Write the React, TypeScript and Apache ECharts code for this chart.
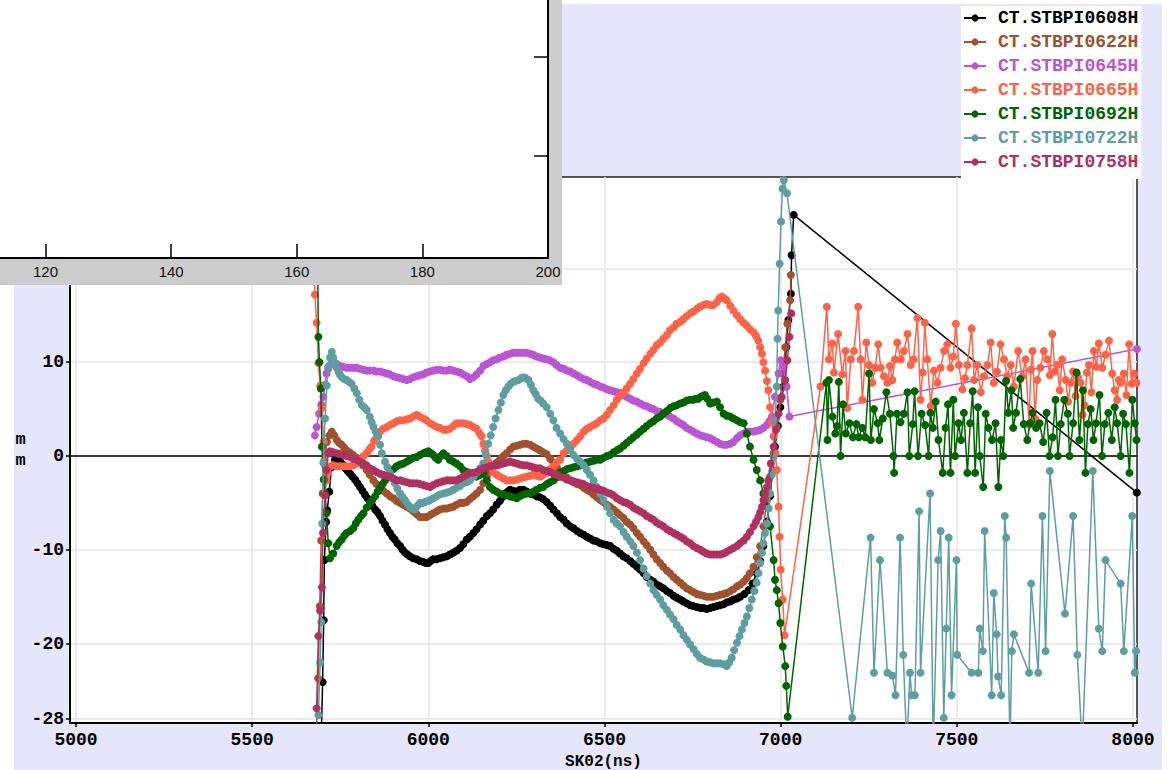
import React, { useEffect, useRef } from "react";
import * as echarts from "echarts";

const seriesNames = [
  "CT.STBPI0608H",
  "CT.STBPI0622H",
  "CT.STBPI0645H",
  "CT.STBPI0665H",
  "CT.STBPI0692H",
  "CT.STBPI0722H",
  "CT.STBPI0758H",
];
const seriesColors = ["#000000", "#A0522D", "#BA55D3", "#FF6347", "#006400", "#5F9EA0", "#B03060"];

const xTicks = [5000, 5500, 6000, 6500, 7000, 7500, 8000];
const yTicks = [-28, -20, -10, 0, 10, 20];
const yLabels = [-28, -20, -10, 0, 10];
const insetXTicks = [120, 140, 160, 180, 200];
const insetYTicks = [102, 201];

const s0608: number[][] = [
  [5696,-30],[5700,-24.1],[5703,-17.5],[5705,-11.1],[5710,-7.0],[5713,-5.8],[5719,-3.8],[5725,-1.2],[5735,-0.4],[5743,-0.3],
  [5750,-0.6],[5757,-0.9],[5764,-1.3],[5771,-1.6],[5778,-1.9],[5785,-2.2],[5792,-2.5],[5799,-2.9],[5806,-3.3],[5813,-3.7],
  [5820,-4.1],[5827,-4.5],[5834,-4.8],[5841,-5.3],[5849,-5.7],[5856,-6.0],[5863,-6.4],[5870,-6.9],[5877,-7.3],[5884,-7.8],
  [5891,-8.2],[5898,-8.6],[5905,-8.9],[5912,-9.3],[5920,-9.6],[5927,-10.0],[5934,-10.3],[5941,-10.5],[5948,-10.7],[5957,-10.9],
  [5967,-11.0],[5976,-11.2],[5986,-11.3],[5993,-11.4],[6000,-11.4],[6007,-11.2],[6014,-11.0],[6023,-11.0],[6033,-10.9],[6042,-10.8],
  [6052,-10.7],[6061,-10.5],[6071,-10.3],[6080,-10.1],[6090,-9.8],[6099,-9.4],[6109,-8.9],[6118,-8.6],[6128,-8.2],[6137,-7.8],
  [6147,-7.3],[6156,-6.9],[6166,-6.4],[6175,-6.1],[6184,-5.7],[6194,-5.2],[6203,-4.8],[6210,-4.4],[6218,-4.0],[6225,-3.8],
  [6232,-3.6],[6241,-3.7],[6251,-3.8],[6260,-3.6],[6270,-3.6],[6280,-3.8],[6289,-4.0],[6298,-4.1],[6308,-4.3],[6317,-4.4],
  [6326,-4.6],[6336,-4.9],[6346,-5.3],[6355,-5.7],[6365,-6.1],[6374,-6.5],[6384,-6.8],[6393,-7.2],[6403,-7.5],[6412,-7.7],
  [6422,-8.0],[6431,-8.2],[6441,-8.4],[6450,-8.6],[6459,-8.8],[6469,-9.0],[6478,-9.1],[6488,-9.3],[6497,-9.4],[6507,-9.5],
  [6516,-9.6],[6526,-9.9],[6535,-10.1],[6544,-10.4],[6554,-10.7],[6563,-10.9],[6573,-11.2],[6582,-11.5],[6592,-11.8],[6601,-12.1],
  [6611,-12.5],[6620,-12.9],[6630,-13.2],[6639,-13.4],[6648,-13.7],[6658,-13.9],[6667,-14.1],[6677,-14.4],[6686,-14.6],[6696,-14.9],
  [6705,-15.1],[6715,-15.3],[6724,-15.5],[6733,-15.7],[6743,-15.9],[6752,-16.0],[6762,-16.1],[6772,-16.2],[6781,-16.2],[6790,-16.3],
  [6800,-16.2],[6809,-16.1],[6819,-16.0],[6828,-15.9],[6838,-15.8],[6847,-15.6],[6857,-15.5],[6866,-15.3],[6876,-15.2],[6885,-15.0],
  [6897,-14.7],[6909,-14.3],[6920,-13.6],[6932,-12.5],[6942,-11.2],[6951,-9.6],[6961,-7.0],[6970,-4.3],[6977,-1.6],[6984,1.0],
  [6992,3.2],[6999,5.2],[7008,7.4],[7016,11.6],[7022,14.5],[7029,17.3],[7031,21.4],[7037,25.7],[8011,-3.9],
];

const s0622: number[][] = [
  [5683,-29],[5687,-23.7],[5692,-16],[5696,-9],[5700,-4],[5705,-0.5],[5712,1.5],[5719,2.2],[5726,2.6],[5733,2.2],
  [5740,1.7],[5747,1.4],[5754,1.2],[5761,0.9],[5768,0.6],[5777,0.4],[5787,0.1],[5796,-0.2],[5806,-0.6],[5815,-1.0],
  [5825,-1.5],[5834,-2.0],[5844,-2.6],[5853,-3.0],[5863,-3.3],[5872,-3.7],[5882,-4.0],[5891,-4.3],[5901,-4.5],[5910,-4.8],
  [5920,-5.0],[5929,-5.2],[5939,-5.4],[5948,-5.6],[5957,-5.9],[5967,-6.2],[5976,-6.5],[5986,-6.5],[5995,-6.5],[6005,-6.3],
  [6014,-6.1],[6024,-5.9],[6033,-5.7],[6043,-5.6],[6052,-5.6],[6061,-5.5],[6071,-5.4],[6080,-5.2],[6090,-5.0],[6099,-5.0],
  [6109,-4.9],[6118,-4.6],[6128,-4.3],[6137,-4.0],[6147,-3.6],[6156,-2.9],[6166,-2.2],[6175,-1.6],[6184,-1.1],[6194,-0.7],
  [6203,-0.4],[6213,0.0],[6222,0.3],[6232,0.7],[6241,1.0],[6251,1.1],[6260,1.2],[6270,1.3],[6279,1.3],[6289,1.2],
  [6298,1.0],[6308,0.8],[6317,0.6],[6326,0.4],[6336,0.2],[6346,-0.3],[6355,-0.7],[6365,-1.2],[6374,-1.7],[6384,-2.0],
  [6393,-2.3],[6403,-2.6],[6412,-2.8],[6422,-3.0],[6431,-3.1],[6441,-3.4],[6450,-3.6],[6459,-3.8],[6469,-4.1],[6478,-4.4],
  [6488,-4.7],[6497,-4.9],[6507,-5.2],[6516,-5.4],[6526,-5.7],[6535,-6.0],[6544,-6.3],[6554,-6.6],[6563,-7.0],[6573,-7.3],
  [6582,-7.7],[6592,-8.2],[6601,-8.6],[6611,-9.1],[6620,-9.5],[6630,-10.0],[6639,-10.5],[6648,-11.0],[6658,-11.4],[6667,-11.8],
  [6677,-12.2],[6686,-12.5],[6696,-12.9],[6705,-13.2],[6715,-13.5],[6724,-13.8],[6733,-14.1],[6743,-14.3],[6752,-14.5],[6762,-14.7],
  [6772,-14.8],[6781,-14.9],[6790,-15.0],[6800,-15.0],[6809,-15.0],[6819,-14.9],[6828,-14.8],[6838,-14.7],[6847,-14.6],[6857,-14.4],
  [6866,-14.2],[6876,-13.9],[6885,-13.7],[6895,-13.4],[6904,-13.0],[6913,-12.5],[6923,-11.8],[6932,-10.8],[6942,-9.6],[6951,-7.5],
  [6961,-4.7],[6970,-2.2],[6980,0.3],[6989,3.1],[6999,6.0],[7006,8.8],[7013,11.6],[7019,14.1],[7027,16.6],[7029,19.3],
];

const s0645: number[][] = [
  [5678,2.2],[5683,3.1],[5690,4.5],[5696,5.5],[5702,6.3],[5707,7.6],[5711,8.8],[5716,9.3],[5721,9.7],[5730,9.9],
  [5740,9.8],[5749,9.6],[5759,9.5],[5768,9.4],[5778,9.4],[5787,9.4],[5797,9.4],[5806,9.3],[5816,9.2],[5825,9.1],
  [5834,9.1],[5844,9.1],[5853,9.0],[5863,9.0],[5872,8.9],[5882,8.8],[5891,8.7],[5901,8.5],[5910,8.4],[5920,8.3],
  [5929,8.2],[5939,8.1],[5948,8.2],[5957,8.4],[5967,8.5],[5976,8.6],[5986,8.7],[5995,8.9],[6005,9.0],[6014,9.1],
  [6024,9.2],[6033,9.2],[6043,9.1],[6052,9.1],[6061,9.2],[6071,9.1],[6080,9.0],[6090,8.9],[6099,8.7],[6109,8.5],
  [6118,8.2],[6128,8.4],[6137,8.7],[6147,9.1],[6156,9.6],[6166,9.8],[6175,10.0],[6184,10.2],[6194,10.3],[6203,10.5],
  [6213,10.6],[6222,10.8],[6232,10.9],[6241,11.0],[6251,11.0],[6260,11.0],[6270,11.0],[6279,11.0],[6289,10.9],[6298,10.8],
  [6307,10.6],[6317,10.5],[6326,10.4],[6336,10.3],[6345,10.2],[6355,10.0],[6364,9.7],[6374,9.4],[6384,9.3],[6393,9.1],
  [6403,9.0],[6412,8.8],[6422,8.6],[6431,8.4],[6441,8.2],[6450,8.1],[6459,7.9],[6469,7.7],[6478,7.6],[6488,7.4],
  [6497,7.3],[6507,7.1],[6516,7.0],[6526,6.9],[6535,6.8],[6544,6.7],[6554,6.5],[6563,6.3],[6573,6.1],[6582,5.9],
  [6592,5.8],[6601,5.6],[6611,5.4],[6620,5.3],[6630,5.1],[6639,5.0],[6648,4.8],[6658,4.7],[6667,4.5],[6677,4.4],
  [6686,4.2],[6696,4.0],[6705,3.7],[6715,3.5],[6724,3.3],[6733,3.0],[6743,2.8],[6752,2.6],[6762,2.4],[6772,2.2],
  [6781,2.1],[6790,2.0],[6800,1.9],[6809,1.7],[6819,1.5],[6828,1.3],[6838,1.2],[6847,1.2],[6857,1.3],[6866,1.5],
  [6876,1.9],[6885,2.2],[6895,2.4],[6904,2.6],[6913,2.6],[6923,2.6],[6932,2.7],[6942,2.8],[6951,3.0],[6961,3.3],
  [6968,3.7],[6975,4.2],[6984,6.3],[6994,8.8],[7000,10.2],[7008,9.5],[7017,7.4],[7025,4.2],[8011,11.4],
];

const s0665: number[][] = [
  [5672,24],[5678,17.2],[5683,14.2],[5688,9.9],[5693,7.5],[5698,5.1],[5703,1.5],[5707,-1.0],[5711,-2.6],[5716,-1.8],
  [5721,-1.1],[5730,-1.0],[5740,-1.1],[5749,-1.1],[5759,-1.1],[5768,-1.1],[5778,-1.1],[5787,-1.0],[5797,-0.8],[5806,-0.4],
  [5816,0.0],[5825,0.3],[5832,0.7],[5839,1.0],[5846,1.6],[5854,2.1],[5863,2.6],[5872,2.9],[5882,3.1],[5891,3.3],
  [5901,3.5],[5910,3.7],[5920,3.8],[5929,3.8],[5939,3.9],[5948,4.0],[5957,4.2],[5967,4.4],[5976,4.2],[5986,4.0],
  [5995,3.8],[6005,3.5],[6014,3.3],[6024,3.1],[6033,3.0],[6043,2.8],[6052,2.8],[6061,2.9],[6071,3.2],[6080,3.5],
  [6090,3.5],[6099,3.5],[6109,3.4],[6118,3.3],[6128,3.1],[6137,2.9],[6144,2.5],[6151,2.1],[6156,1.3],[6161,0.6],
  [6166,0.0],[6170,-0.6],[6177,-1.2],[6184,-1.7],[6194,-2.0],[6203,-2.2],[6213,-2.4],[6222,-2.6],[6232,-2.6],[6241,-2.6],
  [6251,-2.5],[6260,-2.4],[6270,-2.3],[6279,-2.2],[6289,-2.1],[6298,-2.0],[6308,-2.1],[6317,-2.2],[6326,-2.0],[6336,-1.8],
  [6346,-1.4],[6355,-1.1],[6365,-0.7],[6374,-0.4],[6384,0.3],[6393,0.6],[6403,1.0],[6412,1.3],[6422,1.7],[6431,2.1],
  [6441,2.6],[6450,2.9],[6459,3.1],[6469,3.3],[6478,3.5],[6488,3.8],[6497,4.0],[6507,4.4],[6516,4.9],[6526,5.4],
  [6535,6.0],[6544,6.4],[6554,6.8],[6563,7.2],[6573,7.7],[6582,8.2],[6592,8.8],[6601,9.3],[6611,9.9],[6620,10.4],
  [6630,10.9],[6639,11.3],[6648,11.8],[6658,12.1],[6667,12.5],[6677,12.9],[6686,13.4],[6696,13.7],[6705,14.1],[6715,14.3],
  [6724,14.6],[6733,14.9],[6743,15.2],[6752,15.4],[6762,15.7],[6771,15.9],[6781,16.1],[6790,16.2],[6800,16.1],[6809,16.1],
  [6819,16.4],[6826,16.8],[6833,17.0],[6840,16.8],[6847,16.6],[6857,16.0],[6866,15.5],[6876,15.0],[6885,14.6],[6895,14.2],
  [6904,13.9],[6913,13.5],[6923,13.2],[6930,12.8],[6937,12.3],[6942,11.6],[6947,10.9],[6951,10.0],[6956,9.1],[6961,8.0],
  [6965,7.0],[6970,5.2],[6975,3.6],[6980,2.1],[6985,0.3],[6989,-1.5],[6994,-5.4],[6997,-8.6],[7000,-12.1],[7006,-15.3],
  [7011,-19.1],[7113,7.4],[7131,15.9],[7137,10.3],[7147,12.0],[7151,8.9],[7163,13.0],[7175,8.7],[7184,11.2],[7189,5.1],
  [7199,10.3],[7208,11.2],[7220,15.9],[7227,10.3],[7232,6.0],[7243,12.1],[7251,9.7],[7260,7.8],[7268,9.4],[7277,11.9],
  [7284,9.4],[7293,8.5],[7303,7.8],[7310,9.6],[7317,8.1],[7324,10.3],[7331,12.1],[7341,10.3],[7350,11.2],[7360,13.0],
  [7369,9.7],[7377,10.3],[7388,14.7],[7397,6.0],[7403,8.9],[7409,14.2],[7416,10.3],[7426,5.3],[7435,9.1],[7445,7.8],
  [7454,9.4],[7464,11.2],[7473,11.9],[7482,9.4],[7490,10.6],[7497,14.1],[7506,9.7],[7516,7.1],[7523,8.3],[7530,9.7],
  [7542,13.6],[7549,8.1],[7558,9.7],[7568,6.8],[7577,8.5],[7587,9.7],[7596,12.1],[7605,7.8],[7614,9.0],[7624,11.9],
  [7634,10.3],[7643,8.5],[7653,9.7],[7662,7.4],[7674,11.2],[7686,8.5],[7695,10.3],[7705,3.3],[7710,9.2],[7715,11.2],
  [7722,4.0],[7728,8.1],[7737,9.4],[7747,11.2],[7757,10.3],[7764,8.6],[7771,13.0],[7778,9.0],[7785,9.7],[7792,7.0],
  [7799,10.3],[7809,8.1],[7816,5.8],[7823,7.8],[7830,9.0],[7837,6.4],[7844,8.4],[7851,7.8],[7857,4.4],[7863,5.4],
  [7869,8.9],[7875,9.7],[7882,6.8],[7889,11.2],[7896,9.5],[7903,12.0],[7913,9.4],[7922,10.8],[7932,12.3],[7941,8.8],
  [7948,7.0],[7955,6.0],[7960,8.1],[7965,7.8],[7974,8.8],[7981,6.5],[7989,11.9],[7996,7.7],[8003,8.8],[8010,7.8],
];

const s0692: number[][] = [
  [5685,24],[5688,12.7],[5691,10.0],[5695,7.2],[5698,1.0],[5703,-2.5],[5707,-4.0],[5711,-6.1],[5716,-9.3],[5721,-10.9],
  [5730,-10.4],[5740,-9.6],[5747,-9.2],[5754,-8.9],[5761,-8.5],[5768,-8.2],[5778,-8.0],[5787,-7.7],[5794,-7.2],[5801,-6.8],
  [5809,-6.4],[5816,-6.1],[5825,-5.5],[5834,-5.0],[5841,-4.7],[5849,-4.3],[5856,-3.8],[5863,-3.4],[5870,-3.0],[5877,-2.6],
  [5884,-2.2],[5891,-1.8],[5901,-1.4],[5910,-1.1],[5920,-0.9],[5929,-0.8],[5939,-0.6],[5948,-0.4],[5957,-0.2],[5967,-0.1],
  [5976,0.1],[5986,0.3],[5993,0.4],[6000,0.5],[6007,0.3],[6014,0.1],[6021,-0.2],[6028,-0.4],[6035,0.0],[6043,0.3],
  [6052,0.0],[6061,-0.4],[6071,-0.6],[6080,-0.8],[6090,-1.1],[6099,-1.5],[6109,-1.7],[6118,-1.8],[6128,-2.0],[6137,-2.2],
  [6147,-2.0],[6156,-1.8],[6166,-2.6],[6175,-3.3],[6184,-3.6],[6194,-3.8],[6203,-4.0],[6213,-4.1],[6222,-4.2],[6232,-4.3],
  [6241,-4.4],[6251,-4.5],[6260,-4.3],[6270,-4.1],[6279,-4.0],[6289,-4.0],[6298,-3.8],[6307,-3.6],[6317,-3.4],[6326,-3.3],
  [6336,-3.0],[6345,-2.8],[6355,-2.6],[6364,-2.3],[6374,-1.8],[6384,-1.6],[6393,-1.4],[6403,-1.3],[6412,-1.2],[6422,-1.1],
  [6431,-1.0],[6441,-0.8],[6450,-0.7],[6459,-0.6],[6469,-0.5],[6478,-0.4],[6488,-0.4],[6497,-0.2],[6507,0.0],[6516,0.1],
  [6526,0.4],[6535,0.6],[6544,0.8],[6554,1.1],[6563,1.4],[6573,1.7],[6582,2.0],[6592,2.3],[6601,2.6],[6611,2.9],
  [6620,3.2],[6630,3.5],[6639,3.7],[6648,4.0],[6658,4.2],[6667,4.5],[6677,4.8],[6686,5.1],[6696,5.3],[6705,5.4],
  [6715,5.6],[6724,5.7],[6733,5.9],[6743,6.0],[6752,6.0],[6759,6.1],[6766,6.1],[6773,6.3],[6779,6.4],[6785,6.5],
  [6792,6.1],[6800,5.6],[6809,5.7],[6819,5.8],[6828,5.2],[6838,4.5],[6847,4.3],[6857,4.2],[6866,4.0],[6876,3.8],
  [6885,3.6],[6895,3.5],[6904,2.4],[6913,1.0],[6923,-0.4],[6932,-1.5],[6942,-2.6],[6951,-4.0],[6961,-5.4],[6970,-7.5],
  [6980,-11.1],[6984,-13.2],[6989,-14.3],[6994,-15.7],[6999,-17.8],[7006,-20.3],[7013,-22.4],[7016,-24.5],[7020,-27.8],[7130,7.8],
  [7133,1.7],[7137,8.1],[7147,4.2],[7155,2.4],[7160,3.2],[7165,7.9],[7170,0.0],[7177,5.5],[7185,2.4],[7195,3.5],
  [7205,2.0],[7215,3.4],[7222,2.0],[7232,3.0],[7240,2.0],[7251,8.8],[7256,1.7],[7265,5.0],[7275,3.5],[7280,1.7],
  [7290,4.0],[7300,6.8],[7310,4.5],[7320,0.0],[7322,-1.8],[7330,4.5],[7340,3.6],[7350,4.5],[7360,6.8],[7365,0.0],
  [7375,3.4],[7380,6.9],[7390,0.0],[7400,4.5],[7410,3.3],[7420,0.0],[7425,4.6],[7432,3.0],[7440,5.8],[7448,1.7],
  [7460,-1.8],[7468,3.0],[7475,5.5],[7482,-1.8],[7490,6.0],[7495,0.0],[7505,3.5],[7512,1.7],[7520,4.6],[7530,-1.8],
  [7538,3.5],[7545,6.9],[7552,-1.8],[7560,5.2],[7565,0.0],[7575,-3.3],[7582,4.5],[7590,3.0],[7600,1.7],[7610,3.5],
  [7618,-3.3],[7625,1.7],[7632,0.0],[7640,8.0],[7646,4.6],[7655,7.0],[7660,3.0],[7668,4.6],[7680,8.2],[7690,3.4],
  [7700,1.7],[7708,3.5],[7715,4.6],[7725,3.0],[7735,3.5],[7745,1.5],[7755,4.6],[7763,0.0],[7772,2.0],[7780,6.0],
  [7787,0.0],[7795,3.4],[7805,6.0],[7815,4.5],[7820,0.0],[7830,3.5],[7840,8.9],[7848,1.7],[7858,7.0],[7865,-1.8],
  [7872,3.4],[7880,5.0],[7888,1.7],[7895,3.5],[7905,6.5],[7912,0.0],[7920,3.4],[7930,4.6],[7940,1.7],[7948,5.2],
  [7955,3.5],[7965,0.0],[7972,4.5],[7980,3.4],[7990,-1.8],[7998,6.0],[8005,3.5],[8010,1.7],
];

const s0722: number[][] = [
  [5688,-27.6],[5693,-22],[5696,-17.7],[5699,-7.2],[5702,-0.7],[5707,4.0],[5712,7.5],[5716,9.5],[5721,10.5],[5726,11.1],
  [5730,10.5],[5735,9.9],[5740,9.4],[5745,9.0],[5749,8.7],[5754,8.4],[5761,8.2],[5768,8.1],[5775,7.9],[5782,7.7],
  [5790,7.2],[5797,6.7],[5804,6.0],[5811,5.4],[5818,5.2],[5825,4.9],[5834,4.2],[5839,3.6],[5844,3.1],[5851,2.6],
  [5858,2.1],[5863,1.2],[5868,0.3],[5877,-0.6],[5884,-1.2],[5891,-1.8],[5898,-2.4],[5905,-2.9],[5912,-3.5],[5920,-4.0],
  [5927,-4.4],[5934,-4.7],[5941,-5.1],[5948,-5.4],[5955,-5.6],[5962,-5.7],[5969,-5.3],[5976,-5.0],[5984,-5.0],[5991,-4.9],
  [5998,-4.8],[6005,-4.7],[6014,-4.5],[6024,-4.3],[6033,-4.1],[6043,-4.0],[6052,-3.9],[6061,-3.8],[6071,-3.6],[6080,-3.4],
  [6090,-3.2],[6099,-2.9],[6109,-2.8],[6118,-2.6],[6128,-2.2],[6137,-1.8],[6147,-1.3],[6156,-0.8],[6163,0.2],[6170,1.3],
  [6177,2.2],[6184,3.1],[6191,4.0],[6199,4.9],[6206,5.7],[6213,6.5],[6220,7.0],[6227,7.4],[6234,7.7],[6241,7.9],
  [6248,8.0],[6256,8.1],[6263,8.3],[6270,8.4],[6277,8.3],[6284,8.1],[6291,7.6],[6298,7.0],[6305,6.6],[6312,6.1],
  [6319,5.9],[6326,5.6],[6336,5.2],[6346,4.5],[6355,3.8],[6364,3.0],[6374,2.4],[6384,1.8],[6393,1.3],[6403,0.7],
  [6412,0.1],[6422,-0.3],[6431,-0.6],[6441,-1.0],[6450,-1.5],[6459,-2.0],[6469,-2.6],[6478,-3.3],[6488,-4.0],[6497,-4.7],
  [6507,-5.4],[6516,-6.1],[6526,-6.8],[6535,-7.2],[6544,-7.5],[6554,-8.1],[6563,-8.6],[6573,-9.1],[6582,-9.6],[6592,-10.3],
  [6601,-11.1],[6611,-12.0],[6620,-12.8],[6630,-13.6],[6639,-14.3],[6648,-14.8],[6658,-15.3],[6667,-15.9],[6677,-16.4],[6686,-16.9],
  [6696,-17.4],[6705,-18.0],[6715,-18.5],[6724,-19.1],[6734,-19.6],[6743,-20.1],[6753,-20.6],[6762,-21.1],[6771,-21.5],[6781,-21.7],
  [6790,-21.9],[6800,-22.0],[6809,-22.1],[6819,-22.1],[6828,-22.1],[6838,-22.2],[6847,-22.4],[6854,-22.0],[6861,-21.5],[6868,-20.7],
  [6876,-19.9],[6883,-19.2],[6890,-18.5],[6897,-17.8],[6904,-17.1],[6911,-16.2],[6918,-15.3],[6925,-14.4],[6932,-13.5],[6937,-12.5],
  [6942,-11.4],[6947,-10.3],[6951,-9.3],[6956,-8.2],[6961,-7.2],[6966,-5.6],[6970,-4.0],[6975,-2.0],[6980,-0.1],[6984,3.8],
  [6989,7.4],[6991,12.5],[6993,15.5],[6997,20.5],[7001,25.0],[7005,28.5],[7009,29.4],[7018,28.0],[7203,-27.9],[7255,-8.7],
  [7265,-23.1],[7282,-11.1],[7303,-23.1],[7317,-23.4],[7326,-25.5],[7339,-8.7],[7348,-21.2],[7358,-31],[7367,-23.1],[7372,-25.5],
  [7381,-25.5],[7393,-5.9],[7397,-23.1],[7424,-4.0],[7433,-31],[7447,-11.1],[7454,-8.0],[7463,-27.9],[7470,-18.4],[7477,-8.7],
  [7485,-25.5],[7499,-11.1],[7501,-21.2],[7542,-23.1],[7561,-23.1],[7565,-18.4],[7574,-20.8],[7579,-8.0],[7599,-25.5],[7605,-14.6],
  [7613,-19.0],[7617,-23.5],[7626,-25.5],[7636,-6.4],[7640,-8.7],[7651,-31],[7656,-20.8],[7662,-19.0],[7705,-23.1],[7711,-13.6],
  [7731,-23.1],[7743,-6.4],[7752,-20.8],[7764,-1.6],[7807,-16.8],[7830,-6.4],[7842,-21.2],[7856,-31],[7886,-1.6],[7903,-18.4],
  [7913,-20.8],[7922,-11.1],[7965,-13.6],[7974,-20.8],[7998,-6.4],[8005,-23.1],[8009,-20.8],
];

const s0758: number[][] = [
  [5683,-26.9],[5688,-19.2],[5693,-16.5],[5698,-14.0],[5701,-8.2],[5707,-4.2],[5711,-1.5],[5716,0.3],[5721,0.5],[5730,0.4],
  [5740,0.3],[5749,0.2],[5759,0.1],[5768,0.0],[5778,-0.1],[5787,-0.3],[5797,-0.4],[5806,-0.6],[5816,-0.8],[5825,-1.0],
  [5834,-1.3],[5844,-1.5],[5853,-1.7],[5863,-1.9],[5872,-2.0],[5882,-2.1],[5891,-2.2],[5901,-2.4],[5910,-2.6],[5920,-2.6],
  [5929,-2.7],[5939,-2.8],[5948,-2.9],[5957,-2.9],[5967,-2.9],[5976,-3.0],[5986,-3.1],[5995,-3.2],[6005,-3.3],[6014,-3.1],
  [6024,-2.9],[6033,-2.8],[6043,-2.7],[6052,-2.6],[6061,-2.6],[6071,-2.6],[6080,-2.6],[6090,-2.4],[6099,-2.2],[6109,-2.0],
  [6118,-1.8],[6128,-1.8],[6137,-1.7],[6147,-1.5],[6156,-1.3],[6166,-1.2],[6175,-1.1],[6184,-1.0],[6194,-1.0],[6203,-0.9],
  [6213,-0.8],[6222,-0.7],[6232,-0.6],[6241,-0.7],[6251,-0.8],[6260,-0.9],[6270,-1.0],[6279,-1.0],[6289,-1.1],[6298,-1.2],
  [6307,-1.3],[6317,-1.3],[6326,-1.5],[6336,-1.6],[6346,-1.7],[6355,-1.9],[6365,-2.0],[6374,-2.2],[6384,-2.3],[6393,-2.5],
  [6403,-2.6],[6412,-2.7],[6422,-2.8],[6431,-2.9],[6441,-3.0],[6450,-3.2],[6459,-3.3],[6469,-3.4],[6478,-3.5],[6488,-3.6],
  [6497,-3.7],[6507,-3.9],[6516,-4.0],[6526,-4.2],[6535,-4.5],[6544,-4.7],[6554,-4.9],[6563,-5.0],[6573,-5.2],[6582,-5.5],
  [6592,-5.7],[6601,-5.9],[6611,-6.1],[6620,-6.4],[6630,-6.6],[6639,-6.8],[6648,-7.1],[6658,-7.3],[6667,-7.5],[6677,-7.8],
  [6686,-8.0],[6696,-8.2],[6705,-8.4],[6715,-8.6],[6724,-8.8],[6733,-9.1],[6743,-9.3],[6752,-9.6],[6762,-9.8],[6772,-10.0],
  [6781,-10.2],[6790,-10.4],[6800,-10.5],[6809,-10.5],[6819,-10.5],[6828,-10.5],[6838,-10.4],[6847,-10.2],[6857,-10.0],[6866,-9.8],
  [6876,-9.6],[6885,-9.3],[6895,-9.0],[6904,-8.6],[6913,-8.1],[6923,-7.5],[6930,-7.0],[6937,-6.5],[6942,-6.0],[6947,-5.4],
  [6951,-4.7],[6956,-4.0],[6961,-3.3],[6965,-2.6],[6972,-0.8],[6980,1.0],[6987,2.8],[6994,4.5],[7003,6.3],[7013,8.1],
  [7019,10.2],[7025,12.7],[7030,15.2],
];

const seriesData = [s0608, s0622, s0645, s0665, s0692, s0722, s0758];

const MONO = "'Liberation Mono', 'DejaVu Sans Mono', monospace";
const plain = (v: number) => String(v);

export default function App() {
  const ref = useRef<HTMLDivElement>(null);
  useEffect(() => {
    if (!ref.current) return;
    const chart = echarts.init(ref.current, null, { renderer: "svg", width: 1171, height: 770 });
    const xMin = 4983, xMax = 8011.4, yMin = -28.46, yMax = 29.74;
    const series: any[] = seriesData.map((d, i) => ({
      name: seriesNames[i],
      type: "line",
      xAxisIndex: 0,
      yAxisIndex: 0,
      data: d,
      symbol: "circle",
      symbolSize: 8,
      showSymbol: true,
      showAllSymbol: true,
      clip: true,
      color: seriesColors[i],
      lineStyle: { color: seriesColors[i], width: 1.5 },
      itemStyle: { color: seriesColors[i] },
      emphasis: { disabled: true },
      z: 2 + i * 0.01,
    }));
    chart.setOption({
      animation: false,
      backgroundColor: "#ffffff",
      graphic: [
        { type: "rect", shape: { x: 14, y: 4, width: 1148, height: 780 }, style: { fill: "#E6E6FA" }, z: -10, silent: true },
        { type: "rect", shape: { x: 0, y: 0, width: 562, height: 285 }, style: { fill: "#CCCCCC" }, z: 50, silent: true },
        { type: "rect", shape: { x: 0, y: 0, width: 548, height: 258 }, style: { fill: "#FFFFFF" }, z: 51, silent: true },
      ],
      legend: {
        orient: "vertical",
        left: 961,
        top: 6,
        backgroundColor: "#ffffff",
        padding: [3, 3, 8, 2],
        itemGap: 6,
        itemWidth: 22,
        itemHeight: 9,
        selectedMode: false,
        textStyle: { fontFamily: MONO, fontWeight: "bold", fontSize: 18, lineHeight: 18, padding: [0, 0, 0, 7] },
        data: seriesNames.map((n, i) => ({ name: n, textStyle: { color: seriesColors[i] } })),
      },
      grid: [
        { left: 70, top: 177, width: 1067, height: 546, outerBoundsMode: "none", containLabel: false, show: true, backgroundColor: "#ffffff", borderColor: "#222", borderWidth: 1.5 },
        { left: 0, top: 0, width: 548, height: 258, outerBoundsMode: "none", containLabel: false, show: false },
      ],
      xAxis: [
        {
          type: "value", gridIndex: 0, min: xMin, max: xMax, position: "bottom",
          name: "SK02(ns)", nameLocation: "middle", nameGap: 27,
          nameTextStyle: { fontFamily: MONO, fontWeight: "bold", fontSize: 16, lineHeight: 16, color: "#000" },
          axisLine: { onZero: false, lineStyle: { color: "#000", width: 2 } },
          axisTick: { show: true, length: 4, customValues: xTicks, lineStyle: { color: "#000", width: 1.5 } },
          axisLabel: { customValues: xTicks, formatter: plain, fontFamily: MONO, fontWeight: "bold", fontSize: 18, color: "#000", margin: 8 },
          splitLine: { show: true, lineStyle: { color: "#e4e4e4", width: 1.5 } },
        },
        {
          type: "value", gridIndex: 0, min: xMin, max: xMax, position: "top",
          axisLine: { show: true, onZero: true, lineStyle: { color: "#000", width: 1.5 } },
          axisTick: { show: false }, axisLabel: { show: false }, splitLine: { show: false },
        },
        {
          type: "value", gridIndex: 1, min: 112.75, max: 200, position: "bottom", z: 60,
          axisLine: { onZero: false, lineStyle: { color: "#000", width: 2 } },
          axisTick: { show: true, inside: true, length: 14, customValues: insetXTicks, lineStyle: { color: "#000", width: 1.5 } },
          axisLabel: { customValues: insetXTicks, formatter: plain, fontFamily: "'Liberation Sans', Arial, sans-serif", fontSize: 15, color: "#111", margin: 6 },
          splitLine: { show: false },
        },
      ],
      yAxis: [
        {
          type: "value", gridIndex: 0, min: yMin, max: yMax,
          name: "m\nm", nameLocation: "middle", nameRotate: 0, nameGap: 38,
          nameTextStyle: { fontFamily: MONO, fontWeight: "bold", fontSize: 17, lineHeight: 21, color: "#000" },
          axisLine: { onZero: false, lineStyle: { color: "#000", width: 2 } },
          axisTick: { show: true, length: 4, customValues: yTicks, lineStyle: { color: "#000", width: 1.5 } },
          axisLabel: { customValues: yLabels, formatter: plain, fontFamily: MONO, fontWeight: "bold", fontSize: 18, color: "#000", margin: 6 },
          splitLine: { show: true, lineStyle: { color: "#e4e4e4", width: 1.5 } },
        },
        {
          type: "value", gridIndex: 1, min: 0, max: 258, position: "right", z: 60,
          axisLine: { onZero: false, lineStyle: { color: "#000", width: 2 } },
          axisTick: { show: true, inside: true, length: 14, customValues: insetYTicks, lineStyle: { color: "#000", width: 1.5 } },
          axisLabel: { show: false },
          splitLine: { show: false },
        },
      ],
      series,
    });
    return () => chart.dispose();
  }, []);
  return (
    <div
      ref={ref}
      style={{ position: "fixed", left: 0, top: 0, width: 1171, height: 770, background: "#fff" }}
    />
  );
}
